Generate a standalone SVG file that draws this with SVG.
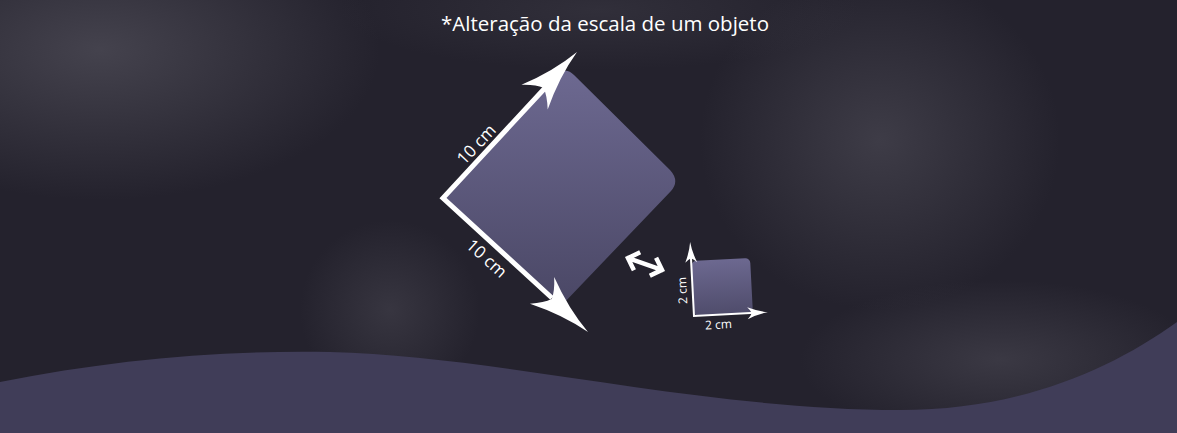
<svg xmlns="http://www.w3.org/2000/svg" width="1177" height="433" viewBox="0 0 1177 433">
<defs>
<radialGradient id="g1" cx="0.5" cy="0.5" r="0.5"><stop offset="0" stop-color="#4a4853" stop-opacity="0.85"/><stop offset="1" stop-color="#4a4853" stop-opacity="0"/></radialGradient>
<linearGradient id="sq" x1="0" y1="70" x2="0" y2="306" gradientUnits="userSpaceOnUse"><stop offset="0" stop-color="#6d6991"/><stop offset="1" stop-color="#4a4765"/></linearGradient>
<linearGradient id="sq2" x1="0" y1="260" x2="0" y2="316" gradientUnits="userSpaceOnUse"><stop offset="0" stop-color="#6d6991"/><stop offset="1" stop-color="#4f4c6b"/></linearGradient>
<path id="head" d="M0,0 Q-30,-4 -62,-18 Q-52,-8 -49,0 Q-52,8 -62,18 Q-30,4 0,0 Z" fill="#ffffff"/>
<style>
.lbl{font-family:"Open Sans","Noto Sans","DejaVu Sans",sans-serif;fill:#ffffff;text-anchor:middle}
.ln{fill:none;stroke:#ffffff;stroke-linejoin:miter}
</style>
</defs>
<g id="background">
<rect width="1177" height="433" fill="#24222d"/>
<ellipse cx="100" cy="50" rx="280" ry="150" fill="url(#g1)"/>
<ellipse cx="880" cy="140" rx="180" ry="170" fill="url(#g1)" opacity="0.8"/>
<ellipse cx="390" cy="310" rx="90" ry="90" fill="url(#g1)" opacity="0.6"/>
<ellipse cx="1000" cy="360" rx="200" ry="80" fill="url(#g1)" opacity="0.7"/>
<ellipse cx="600" cy="10" rx="260" ry="60" fill="url(#g1)" opacity="0.4"/>
<path d="M0,382 C110,360 220,350 330,352 C500,356 700,410 900,410 C1020,410 1110,370 1177,322 L1177,433 L0,433 Z" fill="#403d58"/>
</g>
<text id="title" class="lbl" x="605" y="31" font-size="20.5" fill="#f2f2f2">*Alteração da escala de um objeto</text>
<g id="big-square">
<path d="M443,198 L556,76 Q565,66 574,75 L670,170 Q680,181 671,191 L562,305 Z" fill="url(#sq)"/>
</g>
<g id="connectors">
<path class="ln" stroke-width="5" d="M545,88 L443,198 L552,298"/>
<use href="#head" transform="translate(577,52) rotate(-46.8)"/>
<use href="#head" transform="translate(588,332) rotate(42.2)"/>
<g id="double-arrow" transform="translate(645,264) rotate(19)" fill="none" stroke="#ffffff" stroke-width="4.5" stroke-linecap="square">
<path d="M-17,0 L17,0 M-10,-8 L-18,0 L-10,8 M10,-8 L18,0 L10,8"/>
</g>
</g>
<g id="label-10cm-top"><text class="lbl" font-size="17" transform="translate(477,145) rotate(-47)" y="5">10 cm</text></g>
<g id="label-10cm-bottom"><text class="lbl" font-size="17" transform="translate(486,259) rotate(42)" y="5">10 cm</text></g>
<g id="small-square" transform="rotate(-3 694 316)">
<rect x="694" y="261" width="59" height="55" rx="5" fill="url(#sq2)"/>
<path class="ln" stroke-width="2" d="M694,250 L694,316 L760,316"/>
<use href="#head" transform="translate(694,242) rotate(-90) scale(0.33)"/>
<use href="#head" transform="translate(768,316) scale(0.33)"/>
<text class="lbl" font-size="12" x="718" y="330">2 cm</text>
<text class="lbl" font-size="12" transform="translate(688,290) rotate(-90)">2 cm</text>
</g>
</svg>
